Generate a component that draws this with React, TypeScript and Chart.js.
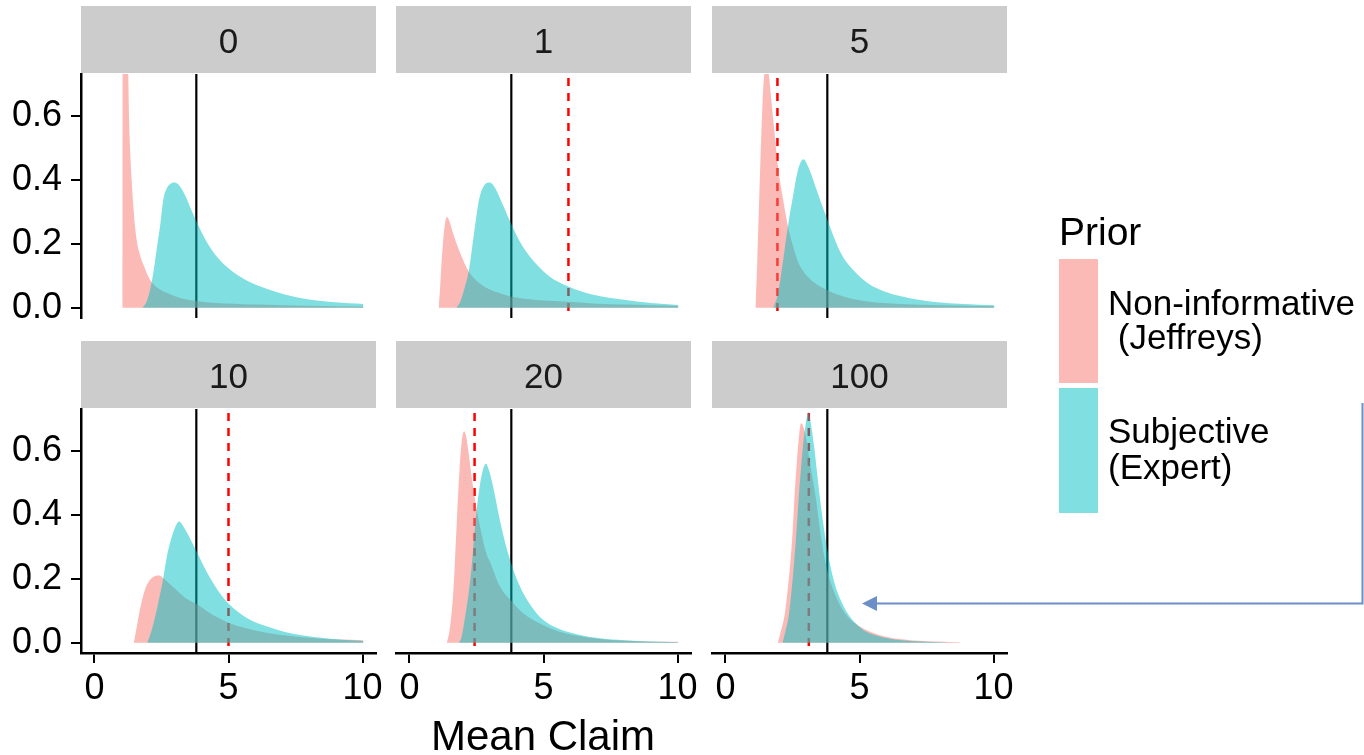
import React, { useEffect, useRef } from "react";
import { Chart, registerables } from "chart.js";

Chart.register(...registerables);

const FONT = "'Liberation Sans', Arial, Helvetica, sans-serif";

// ---------- data ----------
const facetLabels = ["0", "1", "5", "10", "20", "100"];
const trueMean = 3.8;
const sampleMeans: (number | null)[] = [null, 5.93, 1.94, 5.0, 2.43, 3.11];
const xTicks = [0, 5, 10];
const yTicks = [0, 0.2, 0.4, 0.6];
const priorTitle = "Prior";
const priorLabels = [
  ["Non-informative", " (Jeffreys)"],
  ["Subjective", "(Expert)"],
];
const xTitle = "Mean Claim";

const jeffreys0 = [[1.04,0],[1.05,1.6],[1.1,1.3],[1.18,0.95],[1.26,0.74],[1.29,0.6],[1.34,0.48],[1.39,0.4],[1.45,0.32],[1.52,0.25],[1.6,0.2],[1.72,0.16],[1.85,0.13],[2.0,0.1],[2.16,0.078],[2.4,0.06],[2.72,0.046],[3.2,0.031],[3.81,0.021],[4.5,0.015],[5.22,0.0126],[6.0,0.01],[7.0,0.008],[8.0,0.0065],[9.0,0.005],[10.03,0.004]];
const expert0 = [[1.79,0],[1.95,0.02],[2.13,0.078],[2.25,0.14],[2.35,0.2],[2.47,0.27],[2.57,0.34],[2.7,0.375],[2.85,0.39],[3.0,0.393],[3.15,0.385],[3.4,0.35],[3.6,0.31],[3.81,0.27],[4.2,0.205],[4.6,0.157],[5.0,0.124],[5.5,0.094],[6.0,0.073],[6.47,0.058],[7.1,0.042],[7.72,0.03],[8.3,0.023],[8.96,0.017],[9.5,0.014],[10.03,0.012]];

const jeffreys1 = [[1.09,0],[1.15,0.07],[1.19,0.13],[1.25,0.2],[1.32,0.26],[1.4,0.285],[1.5,0.27],[1.62,0.235],[1.75,0.203],[2.0,0.15],[2.21,0.114],[2.6,0.078],[3.0,0.057],[3.4,0.045],[3.81,0.035],[4.5,0.027],[5.2,0.022],[5.93,0.019],[7.0,0.013],[8.0,0.01],[9.0,0.008],[10.03,0.006]];
const expert1 = [[1.75,0],[1.9,0.02],[2.05,0.06],[2.21,0.114],[2.41,0.234],[2.6,0.34],[2.8,0.385],[3.0,0.393],[3.2,0.375],[3.5,0.32],[3.81,0.26],[4.1,0.21],[4.49,0.161],[5.2,0.1],[5.93,0.067],[6.9,0.04],[7.99,0.025],[9.0,0.015],[10.03,0.009]];

const jeffreys5 = [[1.12,0],[1.19,0.15],[1.26,0.34],[1.32,0.5],[1.39,0.653],[1.46,0.74],[1.54,0.76],[1.62,0.73],[1.71,0.653],[1.83,0.55],[1.96,0.443],[2.15,0.34],[2.33,0.255],[2.5,0.2],[2.68,0.15],[2.9,0.115],[3.18,0.088],[3.78,0.056],[4.5,0.033],[5.31,0.02],[6.5,0.012],[8.0,0.008],[10.03,0.005]];
const expert5 = [[1.79,0],[1.95,0.04],[2.12,0.13],[2.33,0.255],[2.5,0.34],[2.7,0.43],[2.91,0.466],[3.1,0.44],[3.4,0.37],[3.78,0.281],[4.31,0.171],[4.8,0.115],[5.31,0.077],[5.9,0.052],[6.55,0.036],[7.2,0.025],[7.8,0.018],[8.9,0.012],[10.03,0.008]];

const jeffreys10 = [[1.47,0],[1.6,0.06],[1.72,0.113],[1.9,0.17],[2.1,0.2],[2.41,0.211],[2.6,0.2],[3.0,0.17],[3.4,0.14],[3.84,0.12],[4.4,0.088],[5.0,0.063],[5.7,0.045],[6.47,0.031],[7.3,0.021],[8.2,0.014],[9.1,0.01],[10.03,0.008]];
const expert10 = [[1.97,0],[2.1,0.03],[2.2,0.06],[2.35,0.113],[2.56,0.199],[2.7,0.27],[2.85,0.322],[3.0,0.36],[3.16,0.38],[3.35,0.36],[3.55,0.33],[3.81,0.286],[4.2,0.22],[4.6,0.165],[5.0,0.123],[5.7,0.077],[6.47,0.05],[7.1,0.034],[7.72,0.024],[8.8,0.013],[10.03,0.006]];

const jeffreys20 = [[1.4,0],[1.5,0.04],[1.58,0.1],[1.65,0.177],[1.77,0.386],[1.87,0.543],[1.95,0.63],[2.04,0.663],[2.12,0.645],[2.2,0.6],[2.37,0.49],[2.55,0.4],[2.87,0.28],[3.0,0.255],[3.37,0.177],[3.81,0.13],[4.24,0.093],[5.0,0.055],[5.6,0.035],[6.24,0.022],[7.2,0.011],[8.5,0.005],[10.03,0.003]];
const expert20 = [[1.85,0],[1.95,0.02],[2.06,0.072],[2.2,0.15],[2.31,0.229],[2.47,0.386],[2.62,0.49],[2.75,0.545],[2.85,0.561],[2.97,0.54],[3.12,0.49],[3.37,0.386],[3.68,0.28],[4.12,0.177],[4.74,0.093],[5.4,0.05],[6.24,0.027],[7.1,0.014],[8.0,0.008],[9.0,0.004],[10.03,0.002]];

const jeffreys100 = [[1.95,0],[2.05,0.03],[2.2,0.083],[2.3,0.15],[2.41,0.24],[2.5,0.34],[2.57,0.449],[2.7,0.606],[2.82,0.688],[2.95,0.665],[3.2,0.54],[3.38,0.449],[3.55,0.34],[3.76,0.24],[4.1,0.15],[4.5,0.088],[5.0,0.052],[5.76,0.024],[6.5,0.012],[7.5,0.005],[8.75,0.002]];
const expert100 = [[2.13,0],[2.25,0.04],[2.36,0.083],[2.45,0.15],[2.55,0.24],[2.65,0.35],[2.73,0.449],[2.88,0.606],[3.0,0.69],[3.1,0.723],[3.2,0.68],[3.32,0.606],[3.53,0.449],[3.8,0.292],[4.07,0.187],[4.35,0.125],[4.63,0.083],[5.13,0.041],[5.76,0.02],[6.5,0.009],[7.3,0.004],[8.24,0.001]];

const jeffreysSeries = [jeffreys0, jeffreys1, jeffreys5, jeffreys10, jeffreys20, jeffreys100];
const expertSeries = [expert0, expert1, expert5, expert10, expert20, expert100];

// ---------- style / layout ----------
const PINK = "rgba(248,118,109,0.5)";
const TEAL = "rgba(0,191,196,0.5)";
const PINK_KEY = "#FBBAB6";
const TEAL_KEY = "#80DFE1";
const ARROW = "#6C8EC9";
const X_MIN = -0.5, X_MAX = 10.5;
const Y_MIN = -0.032, Y_MAX = 0.733;
const COL_LEFT = [81, 396, 712];
const ROW_TOP = [74, 409];
const PANEL_W = 295;
const PANEL_H = 244;
const STRIP_SPACE = 70;
const AXIS_W = 81;
const AXIS_H = 85;
const PAD_R = 25;

const stripPlugin = {
  id: "strip",
  afterDraw(chart: any, _args: any, opts: any) {
    const { ctx, chartArea } = chart;
    ctx.save();
    ctx.fillStyle = "#CCCCCC";
    ctx.fillRect(chartArea.left, chartArea.top - 68, chartArea.right - chartArea.left, 67);
    ctx.fillStyle = "#1A1A1A";
    ctx.font = `35px ${FONT}`;
    ctx.textAlign = "center";
    ctx.textBaseline = "alphabetic";
    ctx.fillText(opts.label, (chartArea.left + chartArea.right) / 2, chartArea.top - 21);
    ctx.restore();
  },
};

const vlinePlugin = {
  id: "vlines",
  beforeDatasetsDraw(chart: any, _args: any, opts: any) {
    const { ctx, chartArea, scales } = chart;
    ctx.save();
    ctx.beginPath();
    ctx.rect(chartArea.left, chartArea.top, chartArea.right - chartArea.left, chartArea.bottom - chartArea.top);
    ctx.clip();
    (opts.lines || []).forEach((l: any) => {
      const px = scales.x.getPixelForValue(l.value);
      ctx.beginPath();
      ctx.strokeStyle = l.color;
      ctx.lineWidth = l.dash ? 2.5 : 2.2;
      ctx.setLineDash(l.dash || []);
      ctx.moveTo(px, chartArea.top + (l.dash ? 4 : 0));
      ctx.lineTo(px, chartArea.bottom);
      ctx.stroke();
    });
    ctx.restore();
  },
};

function Panel({ idx }: { idx: number }) {
  const ref = useRef<HTMLCanvasElement>(null);
  const col = idx % 3;
  const row = Math.floor(idx / 3);
  const showY = col === 0;
  const showX = row === 1;
  const cw = AXIS_W + PANEL_W + PAD_R;
  const ch = STRIP_SPACE + PANEL_H + AXIS_H;

  useEffect(() => {
    const lines: any[] = [];
    const sm = sampleMeans[idx];
    if (sm !== null) lines.push({ value: sm, color: "#FF0000", dash: [8, 7] });
    lines.push({ value: trueMean, color: "#000000" });

    const tickFont = { family: FONT, size: 36 };
    const chart = new Chart(ref.current as HTMLCanvasElement, {
      type: "line",
      data: {
        datasets: [
          {
            label: priorLabels[1].join(" "),
            data: expertSeries[idx].map(([x, y]) => ({ x, y })),
            fill: "origin",
            backgroundColor: TEAL,
            borderColor: "rgba(0,0,0,0)",
            borderWidth: 1,
            pointRadius: 0,
            cubicInterpolationMode: "monotone",
          },
          {
            label: priorLabels[0].join(" "),
            data: jeffreysSeries[idx].map(([x, y]) => ({ x, y })),
            fill: "origin",
            backgroundColor: PINK,
            borderColor: "rgba(0,0,0,0)",
            borderWidth: 1,
            pointRadius: 0,
            cubicInterpolationMode: "monotone",
          },
        ],
      },
      options: {
        responsive: false,
        animation: false,
        devicePixelRatio: 1,
        events: [],
        layout: {
          padding: {
            top: STRIP_SPACE,
            right: PAD_R,
            left: showY ? 0 : AXIS_W,
            bottom: showX ? 0 : AXIS_H,
          },
        },
        plugins: {
          legend: { display: false },
          tooltip: { enabled: false },
          strip: { label: facetLabels[idx] },
          vlines: { lines },
        } as any,
        scales: {
          x: {
            type: "linear",
            min: X_MIN,
            max: X_MAX,
            display: showX,
            afterBuildTicks: (s: any) => {
              s.ticks = xTicks.map((v) => ({ value: v }));
            },
            afterFit: (s: any) => {
              if (showX) s.height = AXIS_H;
            },
            grid: { drawOnChartArea: false, drawTicks: true, tickLength: 10, color: "#000", lineWidth: 2 },
            border: { display: true, color: "#000", width: 2.5 },
            ticks: {
              font: tickFont,
              color: "#000",
              padding: 4,
              maxRotation: 0,
              autoSkip: false,
              callback: (v: any) => String(v),
            },
          },
          y: {
            type: "linear",
            min: Y_MIN,
            max: Y_MAX,
            display: showY,
            afterBuildTicks: (s: any) => {
              s.ticks = yTicks.map((v) => ({ value: v }));
            },
            afterFit: (s: any) => {
              if (showY) s.width = AXIS_W;
            },
            grid: { drawOnChartArea: false, drawTicks: true, tickLength: 10, color: "#000", lineWidth: 2 },
            border: { display: true, color: "#000", width: 2.5 },
            ticks: {
              font: tickFont,
              color: "#000",
              padding: 9,
              autoSkip: false,
              callback: (v: any) => Number(v).toFixed(1),
            },
          },
        },
      } as any,
      plugins: [vlinePlugin, stripPlugin],
    });
    return () => chart.destroy();
  }, [idx]);

  return (
    <canvas
      ref={ref}
      width={cw}
      height={ch}
      style={{
        position: "absolute",
        left: COL_LEFT[col] - AXIS_W,
        top: ROW_TOP[row] - STRIP_SPACE,
        width: cw,
        height: ch,
      }}
    />
  );
}

export default function App() {
  return (
    <div style={{ position: "absolute", left: 0, top: 0, width: 1364, height: 755, background: "#fff", overflow: "hidden" }}>
      {facetLabels.map((_, i) => (
        <Panel key={i} idx={i} />
      ))}
      <svg
        width={1364}
        height={755}
        style={{ position: "absolute", left: 0, top: 0, pointerEvents: "none" }}
        fontFamily={FONT}
      >
        <text x={543} y={750} textAnchor="middle" fontSize={42} fill="#000">
          {xTitle}
        </text>
        <text x={1059} y={245} fontSize={39} fill="#000">
          {priorTitle}
        </text>
        <rect x={1059} y={259} width={39} height={124} fill={PINK_KEY} />
        <rect x={1059} y={388} width={39} height={125} fill={TEAL_KEY} />
        <text x={1108} y={315} fontSize={35} fill="#000" xmlSpace="preserve" style={{ whiteSpace: "pre" }}>
          {priorLabels[0][0]}
        </text>
        <text x={1108} y={349} fontSize={35} fill="#000" xmlSpace="preserve" style={{ whiteSpace: "pre" }}>
          {priorLabels[0][1]}
        </text>
        <text x={1108} y={443} fontSize={35} fill="#000" xmlSpace="preserve" style={{ whiteSpace: "pre" }}>
          {priorLabels[1][0]}
        </text>
        <text x={1108} y={479} fontSize={35} fill="#000" xmlSpace="preserve" style={{ whiteSpace: "pre" }}>
          {priorLabels[1][1]}
        </text>
        <path d="M1362.5 403 V603.5 H876" stroke={ARROW} strokeWidth={2} fill="none" />
        <polygon points="862,603.5 877,596 877,611" fill={ARROW} />
      </svg>
    </div>
  );
}
